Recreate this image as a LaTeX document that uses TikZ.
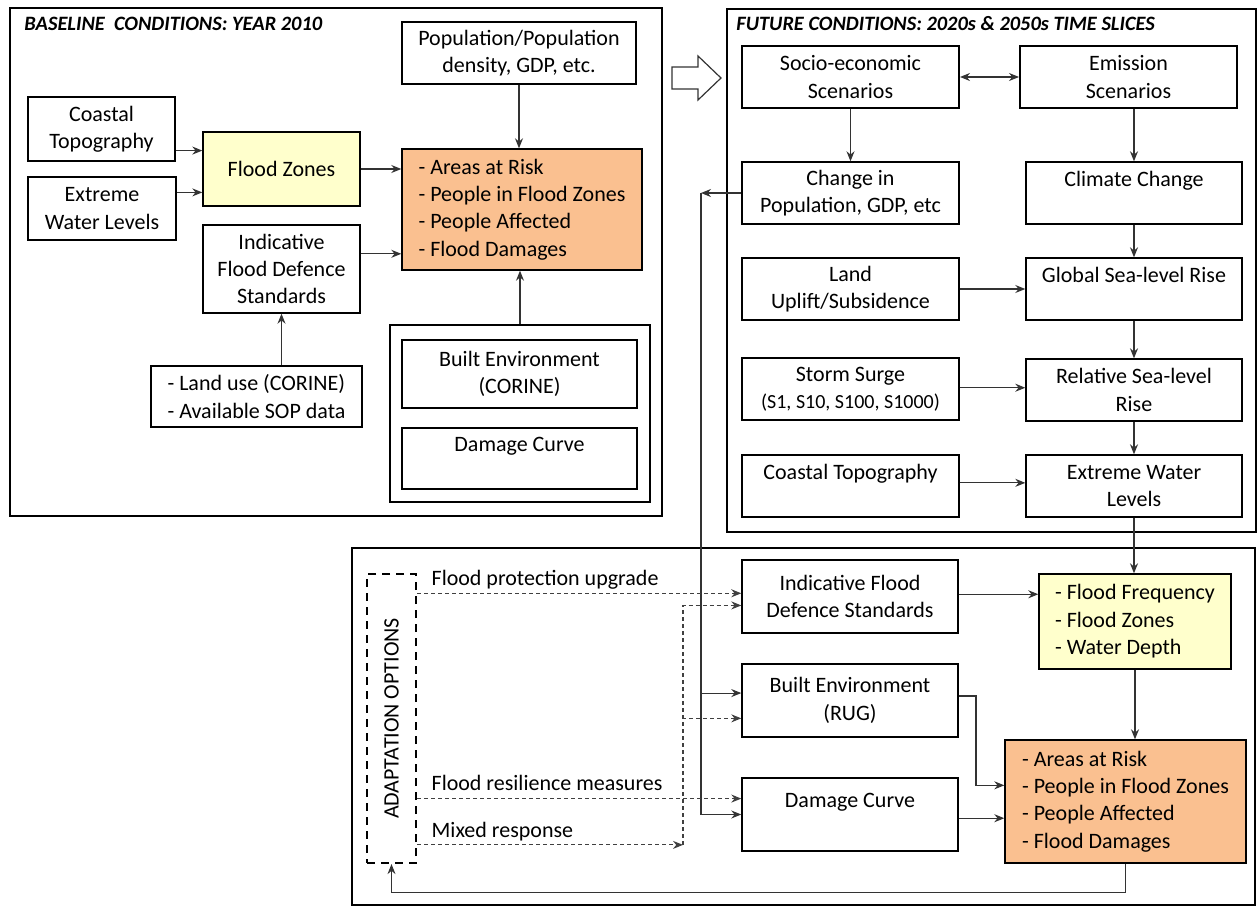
\documentclass[tikz,border=0pt]{standalone}
\usepackage{fontspec}
\setmainfont{Carlito}
\usepackage{tikz}
\usetikzlibrary{positioning, calc, arrows.meta}
\definecolor{zoneyellow}{HTML}{FFFFCC}
\definecolor{riskorange}{HTML}{FAC090}

\begin{document}
\begin{tikzpicture}[x=0.5pt, y=-0.5pt,
	font=\fontsize{11}{13.7}\selectfont,
	>={Stealth[length=5pt, width=4pt]},
	dims/.style 2 args={minimum width=#1pt, minimum height=#2pt},
	box/.style={draw, line width=0.7pt, align=center, inner sep=2pt},
	frame/.style={draw, line width=1.3pt, inner sep=0pt},
	heading/.style={anchor=west, inner sep=0pt, font=\fontsize{10.2}{12}\selectfont\bfseries\itshape},
	arr/.style={->, line width=0.55pt, black!80},
	dasharr/.style={arr, dash pattern=on 2pt off 1.5pt, black!75},
	optlabel/.style={anchor=base west, inner sep=0pt, text=black},
]
\useasboundingbox (0,0) rectangle (1259,909);

% section frames
\node[frame, dims={326}{254}] (basebox) at (336,262) {};
\node[frame, dims={264.5}{261.5}] (futbox) at (991.5,270.5) {};
\node[frame, dims={451.5}{178.5}] (adaptbox) at (803.5,726.5) {};
\node[heading] (basetitle) at (24,24) {BASELINE\ \ CONDITIONS: YEAR 2010};
\node[heading] (futtitle) at (736,24) {FUTURE CONDITIONS: 2020s \& 2050s TIME SLICES};

% baseline
\node[box, dims={117}{31}] (pop) at (519,53) {Population/Population\\density, GDP, etc.};
\node[box, dims={73.5}{32}] (coast) at (101.5,129) {Coastal\\Topography};
\node[box, dims={74}{31.5}] (ewl) at (102,208.5) {Extreme\\Water Levels};
\node[box, dims={78.5}{37}, fill=zoneyellow] (fz) at (281.5,169) {Flood Zones};
\node[box, dims={120}{60.5}, fill=riskorange, align=left] (risk) at (522,209.5) {- Areas at Risk\\- People in Flood Zones\\- People Affected\\- Flood Damages};
\node[box, dims={78.5}{44}] (ifds) at (281.5,269) {Indicative\\Flood Defence\\Standards};
\node[box, dims={105.5}{30.5}, align=left] (landuse) at (256.5,396.5) {- Land use (CORINE)\\- Available SOP data};
\node[draw, line width=1pt, dims={130}{88.5}] (inner) at (520,413.5) {};
\node[box, dims={117.5}{34}] (bcor) at (519.5,374) {Built Environment\\(CORINE)};
\node[box, dims={117.5}{30.5}] (dmg) at (519.5,458.5) {Damage Curve\\~};

% future
\node[box, line width=1pt, dims={108.5}{31}] (socio) at (850.5,77) {Socio-economic\\Scenarios};
\node[box, line width=1pt, dims={108.5}{31}] (emis) at (1128.5,77) {Emission\\Scenarios};
\node[box, dims={108.5}{31}] (chg) at (850.5,193) {Change in\\Population, GDP, etc};
\node[box, dims={108}{31}] (clim) at (1134,193) {Climate Change\\~};
\node[box, dims={108.5}{31}] (land) at (850.5,289) {Land\\Uplift/Subsidence};
\node[box, dims={108}{31}] (gslr) at (1134,289) {Global Sea-level Rise\\~};
\node[box, dims={108.5}{31}] (storm) at (850.5,389) {Storm Surge\\{\fontsize{10}{12}\selectfont (S1, S10, S100, S1000)}};
\node[box, dims={108}{31}] (rslr) at (1134,390) {Relative Sea-level\\Rise};
\node[box, dims={108.5}{31}] (fcoast) at (850.5,486) {Coastal Topography\\~};
\node[box, dims={108}{31}] (fewl) at (1134,486) {Extreme Water\\Levels};

% adaptation
\node[draw, line width=1.1pt, dash pattern=on 4pt off 3pt, dims={24.5}{144.5},
	label={[rotate=90, font=\fontsize{11}{12}\selectfont]center:ADAPTATION OPTIONS}] (adaptopt) at (391.5,718.5) {};
\node[box, dims={108}{36.5}] (bifds) at (850,596.5) {Indicative Flood\\Defence Standards};
\node[box, dims={108}{36.5}] (brug) at (850,700.5) {Built Environment\\(RUG)};
\node[box, dims={108}{36.5}] (bdmg) at (850,814.5) {Damage Curve\\~};
\node[box, dims={96}{47.5}, fill=zoneyellow, align=left] (freq) at (1135,621.5) {- Flood Frequency\\- Flood Zones\\- Water Depth};
\node[box, dims={120.5}{61.5}, fill=riskorange, align=left] (brisk) at (1125.5,801.5) {- Areas at Risk\\- People in Flood Zones\\- People Affected\\- Flood Damages};

\coordinate (split) at (701,0);
\coordinate (mix) at (683,0);
\coordinate (bend) at (976,0);

% hollow arrow
\draw[line width=0.6pt, black!80] (672,67) -- (698,67) -- (698,56) -- (721,78) -- (698,100) -- (698,89) -- (672,89) -- cycle;

\foreach \a/\f/\b in {coast/0.83/fz, ewl/0.25/fz, fz/0.5/risk, ifds/0.33/risk, land/0.5/gslr, storm/0.48/rslr, fcoast/0.45/fewl, bifds/0.47/freq, bdmg/0.55/brisk}
	\draw[arr] ($(\a.north east)!\f!(\a.south east)$) coordinate (from) -- (from -| \b.west);
\foreach \a/\b in {pop/risk, socio/chg, clim/gslr, gslr/rslr, rslr/fewl, fewl/freq, freq/brisk}
	\draw[arr] (\a.south) -- (\a.south |- \b.north);
\draw[arr] (inner.north) -- (inner.north |- risk.south);
\draw[arr] (ifds.south |- landuse.north) -- (ifds.south);
\draw[arr] (clim.north |- emis.south) -- (clim.north);
\draw[<->, line width=0.55pt, black!80] (socio.east) -- (emis.west);

\draw[arr] (chg.west) -- (chg.west -| split);
\draw[arr] (chg.west -| split) |- ($(brug.north west)!0.4!(brug.south west)$);
\draw[arr] (chg.west -| split) |- (bdmg.west);
\draw[arr] ($(brug.north east)!0.44!(brug.south east)$) coordinate (from) -- (from -| bend) |- ($(brisk.north west)!0.37!(brisk.south west)$);
\draw[arr] (brisk.south) -- ++(0,29) -| (adaptopt.south);

\draw[dasharr] ($(adaptopt.north east)!0.07!(adaptopt.south east)$) coordinate (fpu) -- (fpu -| bifds.west)
	node[optlabel, pos=0, xshift=7pt, yshift=4pt] (lfpu) {Flood protection upgrade};
\draw[dasharr] ($(adaptopt.north east)!0.775!(adaptopt.south east)$) coordinate (frm) -- (frm -| bdmg.west)
	node[optlabel, pos=0, xshift=7pt, yshift=4pt] (lfrm) {Flood resilience measures};
\draw[dasharr] ($(adaptopt.north east)!0.934!(adaptopt.south east)$) coordinate (mr) -- (mr -| mix)
	node[optlabel, pos=0, xshift=7pt, yshift=3.5pt] (lmr) {Mixed response};
\draw[dasharr] (mr -| mix) |- ($(bifds.north west)!0.62!(bifds.south west)$);
\draw[dasharr] (mr -| mix) |- ($(brug.north west)!0.74!(brug.south west)$);
\end{tikzpicture}
\end{document}
